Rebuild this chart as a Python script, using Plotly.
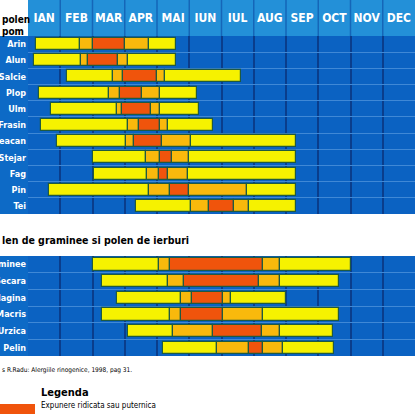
import plotly.graph_objects as go

months = ["IAN", "FEB", "MAR", "APR", "MAI", "IUN", "IUL", "AUG", "SEP", "OCT", "NOV", "DEC"]

# Trees (month units, 0 = start of IAN)
tree_names = ["Arin", "Alun", "Salcie", "Plop", "Ulm", "Frasin", "Mesteacan", "Stejar", "Fag", "Pin", "Tei"]
tree_start = [0.25, 0.2, 1.2, 0.35, 0.7, 0.4, 0.9, 2.0, 2.05, 0.65, 3.35]
tree_mid1 = [1.6, 1.65, 2.65, 2.5, 2.75, 3.1, 3.05, 3.65, 3.7, 3.75, 5.05]
tree_high = [2.0, 1.85, 2.95, 2.85, 2.9, 3.45, 3.3, 4.1, 4.05, 4.4, 5.6]
tree_mid2 = [3.0, 2.8, 4.0, 3.55, 3.8, 4.1, 4.15, 4.45, 4.35, 5.0, 6.4]
tree_low2 = [3.75, 3.1, 4.25, 4.1, 4.1, 4.35, 5.05, 5.0, 4.95, 6.8, 6.85]
tree_end = [4.6, 4.6, 6.6, 5.25, 5.3, 5.75, 8.3, 8.3, 8.3, 8.3, 8.3]

# Grasses and weeds
grass_names = ["Graminee", "Secara", "Patlagina", "Macris", "Urzica", "Pelin"]
grass_start = [2.0, 2.3, 2.75, 2.3, 3.1, 4.2]
grass_mid1 = [4.05, 4.35, 4.75, 4.4, 4.5, 5.85]
grass_high = [4.4, 4.85, 5.1, 4.75, 5.75, 6.85]
grass_mid2 = [7.3, 7.15, 6.05, 6.05, 7.25, 7.3]
grass_low2 = [7.8, 7.8, 6.3, 7.3, 7.8, 7.9]
grass_end = [10.0, 9.65, 8.0, 9.65, 9.45, 9.5]

title_grass = "len de graminee si polen de ierburi"
source_text = "s R.Radu: Alergiile rinogenice, 1998, pag 31."
legend_title = "Legenda"
legend_item = "Expunere ridicata sau puternica"

YELLOW = "#f6f200"
LIGHT = "#f9b90c"
RED = "#f0540c"
GRID_BLUE = "#0b62c2"
HEAD_BLUE = "#2390d8"
OUTLINE = "#1f5a40"
FAM = "DejaVu Sans Condensed, Liberation Sans Narrow, Roboto, sans-serif"

W, H = 415, 414
L, T, B = 28, 36, 58
plot_h = H - T - B
tree_bottom_px = 214
grass_top_px = 256
tree_dom = [(H - B - tree_bottom_px) / plot_h, 1.0]
grass_dom = [0.0, (H - B - grass_top_px) / plot_h]

fig = go.Figure()


def add_section(names, start, mid1, high, mid2, low2, end, xa, ya):
    segs = [
        (start, mid1, YELLOW),
        (mid1, high, LIGHT),
        (high, mid2, RED),
        (mid2, low2, LIGHT),
        (low2, end, YELLOW),
    ]
    ys = list(range(len(names)))
    for a, b, col in segs:
        fig.add_trace(go.Bar(
            orientation="h", y=ys, base=a, x=[bb - aa for aa, bb in zip(a, b)],
            marker=dict(color=col, line=dict(color=OUTLINE, width=1.2)),
            width=0.74, xaxis=xa, yaxis=ya, showlegend=False, hoverinfo="skip",
        ))


add_section(tree_names, tree_start, tree_mid1, tree_high, tree_mid2, tree_low2, tree_end, "x", "y")
add_section(grass_names, grass_start, grass_mid1, grass_high, grass_mid2, grass_low2, grass_end, "x2", "y2")

label_font = dict(family=FAM, size=9, color="white", weight="bold")

xcommon = dict(
    range=[0, 12], showgrid=False, zeroline=False, ticks="", automargin=False,
    tickvals=[i + 0.5 for i in range(len(months))],
    minor=dict(tickvals=list(range(1, len(months))), showgrid=True, gridcolor="#0a3d8c", gridwidth=1.5, ticks=""),
    fixedrange=True,
)

def ycommon(names, dom):
    n = len(names)
    return dict(
        domain=dom, range=[n - 0.5, -0.5], tickvals=list(range(n)), ticktext=names,
        showgrid=False, zeroline=False, ticks="", tickfont=label_font, ticklabelstandoff=1,
        automargin=False,
        minor=dict(tickvals=[i + 0.5 for i in range(n - 1)], showgrid=True, gridcolor="#3f88d6", gridwidth=1, ticks=""),
        fixedrange=True,
    )

fig.update_layout(
    width=W, height=H,
    margin=dict(l=L, r=0, t=T, b=B),
    paper_bgcolor="white", plot_bgcolor=GRID_BLUE,
    barmode="overlay", bargap=0,
    xaxis=dict(**xcommon, anchor="y", side="top", ticktext=months, ticklabelstandoff=11, tickangle=0,
               tickfont=dict(family=FAM, size=12, color="white", weight="bold")),
    xaxis2=dict(**xcommon, anchor="y2", matches="x", showticklabels=False),
    yaxis=ycommon(tree_names, tree_dom),
    yaxis2=ycommon(grass_names, grass_dom),
)

shapes = []
shapes.append(dict(type="rect", xref="paper", yref="paper", x0=0, x1=1, y0=1, y1=1 + T / plot_h,
                   fillcolor=HEAD_BLUE, line=dict(width=0), layer="below"))
for k in range(1, len(months)):
    shapes.append(dict(type="line", xref="x", yref="paper", x0=k, x1=k, y0=1, y1=1 + T / plot_h,
                       line=dict(color="#1566b8", width=1.5)))
lx = -L / (W - L)
for dom in (tree_dom, grass_dom):
    shapes.append(dict(type="rect", xref="paper", yref="paper", x0=lx, x1=0, y0=dom[0], y1=dom[1],
                       fillcolor="#0d6ac6", line=dict(width=0), layer="below"))


def py(px):
    return (H - B - px) / plot_h


shapes.append(dict(type="rect", xref="paper", yref="paper", x0=lx, x1=lx + 35 / (W - L),
                   y0=py(404), y1=py(H), fillcolor=RED, line=dict(width=0)))
fig.update_layout(shapes=shapes)

ann = [
    dict(text="polen", x=lx, y=py(20), xref="paper", yref="paper", xanchor="left", yanchor="middle",
         showarrow=False, font=dict(family=FAM, size=10, color="black", weight="bold")),
    dict(text="pom", x=lx, y=py(31), xref="paper", yref="paper", xanchor="left", yanchor="middle",
         showarrow=False, font=dict(family=FAM, size=10, color="black", weight="bold")),
    dict(text=title_grass, x=lx, y=py(240), xref="paper", yref="paper", xanchor="left", yanchor="middle",
         showarrow=False, font=dict(family=FAM, size=10.5, color="black", weight="bold")),
    dict(text=source_text, x=lx, y=py(370), xref="paper", yref="paper", xanchor="left", yanchor="middle",
         showarrow=False, font=dict(family=FAM, size=6.5, color="black")),
    dict(text=legend_title, x=lx + 39 / (W - L), y=py(392), xref="paper", yref="paper", xanchor="left", yanchor="middle",
         showarrow=False, font=dict(family=FAM, size=11, color="black", weight="bold")),
    dict(text=legend_item, x=lx + 39 / (W - L), y=py(405), xref="paper", yref="paper", xanchor="left", yanchor="middle",
         showarrow=False, font=dict(family=FAM, size=8, color="black")),
]
fig.update_layout(annotations=ann)

fig.write_html("out.html", config=dict(displayModeBar=False),
               post_script="document.body.style.margin='0';")
